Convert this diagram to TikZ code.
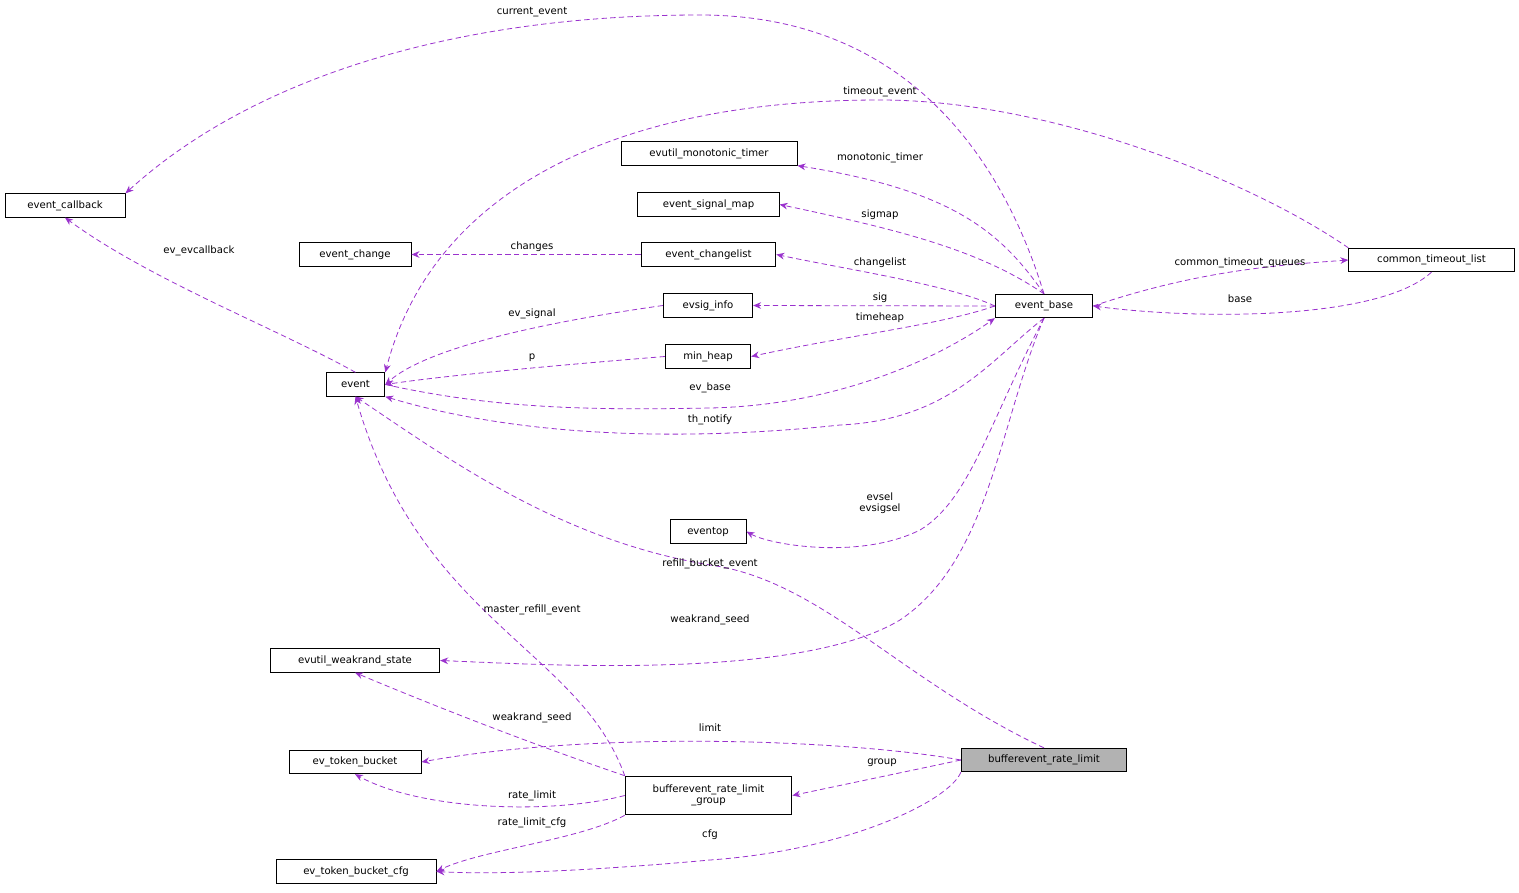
\documentclass[tikz,border=0pt]{standalone}
\usepackage{fontspec}
\setmainfont{DejaVu Sans}
\usetikzlibrary{arrows.meta}
\definecolor{ed}{HTML}{9A32CD}
\begin{document}
\begin{tikzpicture}[x=0.75pt,y=-0.75pt,
 box/.style={draw=black,fill=white,line width=0.7pt,inner sep=0pt,minimum height=17.5pt,font=\fontsize{7.6pt}{8.6pt}\selectfont,align=center},
 e/.style={draw=ed,dashed,line width=0.6pt,dash pattern=on 4pt off 2.5pt,-{Stealth[length=6pt,width=5pt]}},
 lb/.style={font=\fontsize{7.6pt}{8.6pt}\selectfont,align=center,inner sep=1pt}]
\useasboundingbox (0,0) rectangle (1519,892);
\node[box,minimum width=90pt] (cb) at (65,205.5) {event\_callback};
\node[box,minimum width=84pt] (ch) at (355,254.5) {event\_change};
\node[box,minimum width=44pt] (ev) at (355.5,384.5) {event};
\node[box,minimum width=132pt] (mt) at (709,153.5) {evutil\_monotonic\_timer};
\node[box,minimum width=106pt] (sm) at (708.5,204.5) {event\_signal\_map};
\node[box,minimum width=101pt] (cl) at (708.5,254.5) {event\_changelist};
\node[box,minimum width=67pt] (si) at (708,305.5) {evsig\_info};
\node[box,minimum width=64pt] (mh) at (708,356.5) {min\_heap};
\node[box,minimum width=57pt] (eo) at (708,531.5) {eventop};
\node[box,minimum width=73pt] (eb) at (1044,306) {event\_base};
\node[box,minimum width=124pt] (ct) at (1431.5,260) {common\_timeout\_list};
\node[box,minimum width=127pt] (ws) at (355,660.5) {evutil\_weakrand\_state};
\node[box,minimum width=99pt] (tb) at (355,762) {ev\_token\_bucket};
\node[box,minimum width=120pt] (tc) at (356,871.5) {ev\_token\_bucket\_cfg};
\node[box,minimum width=125pt,minimum height=29pt] (gr) at (708.5,795.5) {bufferevent\_rate\_limit\\\_group};
\node[box,minimum width=124pt,fill=black!30] (rl) at (1044,760) {bufferevent\_rate\_limit};

\draw[e] (eb.north) .. controls (1000,150) and (900,15) .. (700,15) .. controls (450,15) and (250,80) .. (cb.north east) ;
\node[lb] at (532,12) {current\_event};
\draw[e] (ct.north west) .. controls (1250,180) and (1050,100) .. (880,100) .. controls (600,100) and (430,200) .. (ev.north east);
\node[lb] at (880,92) {timeout\_event};
\draw[e] (eb.north) .. controls (1000,230) and (950,190) .. (mt.south east);
\node[lb] at (880,158) {monotonic\_timer};
\draw[e] (eb.north) .. controls (980,250) and (900,230) .. (sm.east);
\node[lb] at (880,215) {sigmap};
\draw[e] (eb.west) .. controls (950,285) and (850,270) .. (cl.east);
\node[lb] at (880,263) {changelist};
\draw[e] (eb.west) -- (si.east);
\node[lb] at (880,298) {sig};
\draw[e] (eb.west) .. controls (940,325) and (850,335) .. (mh.east);
\node[lb] at (880,318) {timeheap};
\draw[e] (cl.west) -- (ch.east);
\node[lb] at (532,247) {changes};
\draw[e] (ev.north) .. controls (280,330) and (150,280) .. (cb.south);
\node[lb] at (199,251) {ev\_evcallback};
\draw[e] (si.west) .. controls (560,320) and (430,345) .. (ev.east);
\node[lb] at (532,314) {ev\_signal};
\draw[e] (mh.west) .. controls (560,365) and (450,375) .. (ev.east);
\node[lb] at (532,358) {p};
\draw[e] (ev.east) .. controls (500,410) and (600,410) .. (710,408) .. controls (850,405) and (950,350) .. (eb.south west);
\node[lb] at (710,388) {ev\_base};
\draw[e] (eb.south) .. controls (990,360) and (950,420) .. (840,425) .. controls (700,440) and (530,440) .. (ev.south east);
\node[lb] at (710,420) {th\_notify};
\draw[e] (eb.south) .. controls (990,420) and (970,500) .. (920,530) .. controls (860,560) and (770,545) .. (eo.east);
\node[lb] at (880,503) {evsel\\evsigsel};
\draw[e] (rl.north) .. controls (900,680) and (820,580) .. (710,565) .. controls (560,540) and (450,460) .. (ev.south);
\node[lb] at (710,564) {refill\_bucket\_event};
\draw[e] (eb.south) .. controls (1000,420) and (990,560) .. (900,620) .. controls (800,680) and (550,665) .. (ws.east);
\node[lb] at (710,620) {weakrand\_seed};
\draw[e] (gr.north west) .. controls (580,650) and (420,620) .. (ev.south);
\node[lb] at (532,610) {master\_refill\_event};
\draw[e] (gr.north west) .. controls (520,740) and (420,700) .. (ws.south);
\node[lb] at (532,718) {weakrand\_seed};
\draw[e] (rl.west) .. controls (850,740) and (600,730) .. (tb.east);
\node[lb] at (710,728) {limit};
\draw[e] (rl.west) -- (gr.east);
\node[lb] at (882,763) {group};
\draw[e] (gr.west) .. controls (550,815) and (420,810) .. (tb.south);
\node[lb] at (532,796) {rate\_limit};
\draw[e] (gr.south west) .. controls (580,840) and (480,850) .. (tc.east);
\node[lb] at (532,823) {rate\_limit\_cfg};
\draw[e] (rl.south west) .. controls (950,800) and (850,850) .. (710,860) .. controls (600,870) and (500,875) .. (tc.east);
\node[lb] at (710,835) {cfg};
\draw[e] (eb.east) .. controls (1200,270) and (1280,265) .. (ct.west);
\node[lb] at (1240,263) {common\_timeout\_queues};
\draw[e] (ct.south) .. controls (1380,320) and (1200,320) .. (eb.east);
\node[lb] at (1240,299) {base};
\end{tikzpicture}
\end{document}
